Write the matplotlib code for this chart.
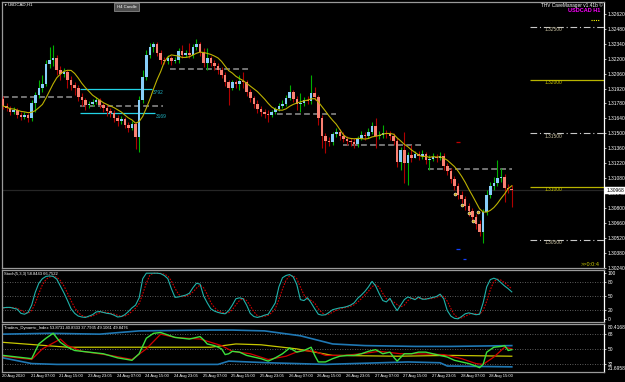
import matplotlib
matplotlib.use("Agg")
import matplotlib.pyplot as plt
from matplotlib.lines import Line2D
from matplotlib.patches import Rectangle
import numpy as np
import pandas as pd

#---------------------------
# DATA
#---------------------------
FIRST_OPEN = 1.31822
closes = [
    1.31756, 1.31737, 1.31700, 1.31719, 1.31672, 1.31653, 1.31672, 1.31644,
    1.31784, 1.31859, 1.31925, 1.31962, 1.32150, 1.32188, 1.32206, 1.32094,
    1.32056, 1.32075, 1.32000, 1.31953, 1.31925, 1.31841, 1.31812, 1.31766,
    1.31775, 1.31794, 1.31812, 1.31766, 1.31737, 1.31709, 1.31690, 1.31644,
    1.31615, 1.31634, 1.31578, 1.31550, 1.31587, 1.31465, 1.31812, 1.32028,
    1.32235, 1.32310, 1.32338, 1.32253, 1.32188, 1.32178, 1.32206, 1.32178,
    1.32188, 1.32272, 1.32235, 1.32253, 1.32235, 1.32310, 1.32338, 1.32263,
    1.32159, 1.32206, 1.32159, 1.32131, 1.32094, 1.32047, 1.31981, 1.31925,
    1.31981, 1.31962, 1.31991, 1.31981, 1.31887, 1.31831, 1.31775, 1.31728,
    1.31700, 1.31681, 1.31672, 1.31700, 1.31728, 1.31756, 1.31775, 1.31831,
    1.31887, 1.31822, 1.31775, 1.31784, 1.31812, 1.31803, 1.31878, 1.31841,
    1.31644, 1.31475, 1.31428, 1.31418, 1.31493, 1.31512, 1.31475, 1.31447,
    1.31428, 1.31418, 1.31400, 1.31447, 1.31484, 1.31475, 1.31512, 1.31569,
    1.31475, 1.31484, 1.31503, 1.31493, 1.31475, 1.31428, 1.31231, 1.31343,
    1.31221, 1.31297, 1.31268, 1.31306, 1.31287, 1.31306, 1.31250, 1.31259,
    1.31278, 1.31268, 1.31287, 1.31193, 1.31146, 1.31071, 1.31006, 1.30921,
    1.30884, 1.30818, 1.30771, 1.30715, 1.30649, 1.30574, 1.30762, 1.30921,
    1.31006, 1.31034, 1.31081, 1.31090, 1.30987, 1.30978, 1.30968,
]
highs = [
    1.31850, 1.31784, 1.31756, 1.31747, 1.31737, 1.31700, 1.31700, 1.31690,
    1.31812, 1.31887, 1.32000, 1.32047, 1.32188, 1.32310, 1.32328, 1.32235,
    1.32131, 1.32113, 1.32094, 1.32038, 1.31981, 1.31953, 1.31878, 1.31831,
    1.31803, 1.31822, 1.31841, 1.31831, 1.31784, 1.31766, 1.31737, 1.31719,
    1.31672, 1.31662, 1.31653, 1.31606, 1.31615, 1.31606, 1.31850, 1.32094,
    1.32281, 1.32347, 1.32356, 1.32356, 1.32281, 1.32216, 1.32235, 1.32225,
    1.32216, 1.32300, 1.32328, 1.32281, 1.32347, 1.32338, 1.32385, 1.32356,
    1.32300, 1.32300, 1.32225, 1.32188, 1.32159, 1.32122, 1.32075, 1.32000,
    1.32000, 1.32000, 1.32047, 1.32075, 1.32000, 1.31916, 1.31850, 1.31812,
    1.31756, 1.31728, 1.31719, 1.31719, 1.31747, 1.31784, 1.31812, 1.31859,
    1.31953, 1.31906, 1.31850, 1.31878, 1.31841, 1.31850, 1.32047, 1.31934,
    1.31859, 1.31672, 1.31503, 1.31465, 1.31512, 1.31550, 1.31540, 1.31512,
    1.31475, 1.31456, 1.31456, 1.31475, 1.31522, 1.31512, 1.31550, 1.31606,
    1.31644, 1.31522, 1.31578, 1.31531, 1.31522, 1.31503, 1.31456, 1.31372,
    1.31512, 1.31325, 1.31390, 1.31334, 1.31334, 1.31343, 1.31325, 1.31297,
    1.31315, 1.31306, 1.31325, 1.31315, 1.31221, 1.31175, 1.31100, 1.31034,
    1.30959, 1.30912, 1.30846, 1.30799, 1.30743, 1.30687, 1.30790, 1.30968,
    1.31043, 1.31090, 1.31250, 1.31175, 1.31118, 1.31025, 1.31015,
]
lows = [
    1.31728, 1.31709, 1.31672, 1.31681, 1.31644, 1.31625, 1.31634, 1.31606,
    1.31615, 1.31700, 1.31831, 1.31887, 1.31944, 1.32113, 1.32131, 1.32047,
    1.32000, 1.32028, 1.31925, 1.31906, 1.31859, 1.31803, 1.31756, 1.31719,
    1.31737, 1.31756, 1.31775, 1.31737, 1.31700, 1.31662, 1.31653, 1.31606,
    1.31569, 1.31587, 1.31550, 1.31512, 1.31531, 1.31353, 1.31325, 1.31784,
    1.32000, 1.32206, 1.32263, 1.32225, 1.32150, 1.32150, 1.32150, 1.32141,
    1.32159, 1.32159, 1.32206, 1.32216, 1.32206, 1.32206, 1.32281, 1.32225,
    1.32122, 1.32094, 1.32131, 1.32094, 1.32056, 1.32019, 1.31944, 1.31766,
    1.31906, 1.31925, 1.31906, 1.31925, 1.31850, 1.31794, 1.31737, 1.31690,
    1.31662, 1.31644, 1.31606, 1.31653, 1.31681, 1.31709, 1.31737, 1.31756,
    1.31812, 1.31794, 1.31719, 1.31700, 1.31756, 1.31775, 1.31775, 1.31812,
    1.31578, 1.31362, 1.31315, 1.31381, 1.31390, 1.31465, 1.31437, 1.31418,
    1.31390, 1.31381, 1.31362, 1.31372, 1.31437, 1.31437, 1.31456, 1.31493,
    1.31362, 1.31447, 1.31456, 1.31456, 1.31437, 1.31390, 1.31184, 1.31156,
    1.31034, 1.31015, 1.31231, 1.31268, 1.31250, 1.31259, 1.31212, 1.31156,
    1.31240, 1.31231, 1.31250, 1.31156, 1.31109, 1.31034, 1.30968, 1.30884,
    1.30846, 1.30781, 1.30724, 1.30677, 1.30602, 1.30537, 1.30471, 1.30734,
    1.30893, 1.30968, 1.31006, 1.31043, 1.30856, 1.30940, 1.30809,
]

# gray dashed session levels: start bar, end bar, price
lvl_start = [0, 21.5, 46.6, 76.5, 95, 118.6]
lvl_end = [19.5, 44.7, 69, 93, 117, 142]
lvl_price = [1.31841, 1.31756, 1.32106, 1.31684, 1.31393, 1.31168]

# cyan range lines
cyan_start = [21.5, 21.5]
cyan_end = [41.6, 42.4]
cyan_price = [1.31913, 1.31688]
cyan_text = ["3792", "3169"]

# white signal dots on the last drop
dot_bar = [126.2, 128.1, 130.0, 131.2, 132.6]
dot_price = [1.30931, 1.30828, 1.30753, 1.30678, 1.30762]

# tiny marks (bar, price, colour)
mark_bar = [127.0, 127.0, 128.8]
mark_price = [1.31418, 1.30415, 1.30321]
mark_color = ["#c00000", "#1040ff", "#1040ff"]

# round number lines on the right
round_price = [1.32500, 1.32000, 1.31500, 1.31000, 1.30500]
round_text = ["1.32500", "1.32000", "1.31500", "1.31000", "1.30500"]

# price scale labels
price_ticks = [1.32620, 1.32480, 1.32340, 1.32200, 1.32060, 1.31920, 1.31780, 1.31640, 1.31500,
               1.31360, 1.31220, 1.31080, 1.30940, 1.30800, 1.30660, 1.30520, 1.30380, 1.30240]

# stochastic(5,3,3) main line
stoch_main = [
    24, 25, 25, 23, 21, 12, 10, 14, 30, 58, 78, 88, 93, 94, 93, 87, 72, 57, 40, 22,
    12, 6, 4, 3, 6, 9, 15, 16, 14, 12, 11, 8, 4, 5, 9, 16, 24, 30, 46, 88,
    100, 100, 100, 100, 99, 95, 88, 66, 47, 48, 50, 52, 56, 68, 78, 76, 50, 35, 22, 17,
    14, 12, 11, 18, 30, 44, 46, 44, 30, 12, 5, 3, 5, 8, 10, 22, 35, 70, 90, 95,
    97, 92, 75, 42, 40, 46, 35, 22, 10, 8, 9, 14, 20, 22, 24, 25, 27, 30, 35, 45,
    52, 60, 70, 82, 72, 55, 40, 37, 45, 30, 18, 30, 42, 48, 45, 42, 48, 43, 43, 45,
    47, 49, 54, 44, 18, 6, 1, 0, 5, 11, 13, 11, 9, 10, 35, 70, 86, 89, 86, 79,
    72, 66, 59,
]

# Traders Dynamic Index lines (bar, value)
tdi_green_bar = [0, 4, 8, 10, 12, 14, 16, 18, 20, 24, 28, 32, 36, 38, 40, 42, 44, 46, 48, 52,
                 55, 56, 57, 59, 61, 62, 63, 64, 66, 68, 70, 72, 74, 76, 78, 80, 82, 84, 86, 87,
                 88, 90, 92, 94, 96, 98, 100, 102, 104, 106, 108, 109, 110, 112, 114, 116, 118, 120, 122, 124,
                 126, 128, 130, 132, 133, 134, 135, 137, 139, 140, 141, 142]
tdi_green = [42, 40, 38, 56, 63, 69, 58, 52, 48, 46, 44, 39, 36, 44, 63, 69, 70, 67, 64, 62,
             65, 61, 56, 54, 50, 43, 44, 47, 46, 42, 40, 38, 35, 39, 44, 51, 46, 48, 52, 42,
             34, 34, 38, 41, 42, 42, 44, 47, 49, 44, 46, 40, 35, 44, 44, 46, 46, 44, 42, 40,
             36, 34, 32, 29, 27, 31, 46, 52, 53, 54, 48, 49]
tdi_red_bar = [0, 8, 11, 16, 18, 22, 30, 36, 40, 44, 48, 55, 58, 61, 64, 69, 74, 79, 83, 87,
               90, 95, 100, 105, 111, 115, 123, 128, 132, 134, 137, 140, 142]
tdi_red = [41, 37, 50, 62, 54, 47, 42, 37, 50, 68, 64, 62, 58, 54, 47, 44, 37, 41, 48, 47,
           42, 42, 44, 47, 44, 44, 43, 38, 32, 31, 40, 52, 50]
tdi_base_bar = [0, 18, 38, 58, 65, 72, 82, 92, 110, 125, 142]
tdi_base = [58, 52, 52, 52, 56, 55, 50, 42, 41, 42, 41]
tdi_up_bar = [0, 13, 27, 38, 58, 64, 73, 83, 92, 101, 115, 125, 142]
tdi_up = [68, 69, 68, 72, 73, 73, 72, 66, 56, 54, 53, 53, 54]
tdi_lo_bar = [0, 8, 15, 40, 60, 63, 74, 90, 113, 122, 124, 142]
tdi_lo = [39, 32, 31, 31, 31, 35, 33, 31, 34, 33, 29, 28]

time_labels = ["20 Aug 2020", "21 Aug 07:00", "21 Aug 15:00", "23 Aug 23:05", "24 Aug 07:00",
               "24 Aug 15:00", "24 Aug 23:05", "25 Aug 07:00", "25 Aug 15:00", "25 Aug 23:05",
               "26 Aug 07:00", "26 Aug 15:00", "26 Aug 23:05", "27 Aug 07:00", "27 Aug 15:00",
               "27 Aug 23:05", "28 Aug 07:00", "28 Aug 15:00"]
BARS_PER_LABEL = 8

#---------------------------
# STYLE
#---------------------------
W, H = 625, 382
BAR_PX = 3.583          # pixel width of one H1 bar
X0_PX = 3.0             # pixel centre of bar 0
FS = 3.5                # price scale font
FS_SMALL = 3.0          # time scale / window titles
BULL_BODY = "#87cefa"
BEAR_BODY = "#fa8072"
BULL_WICK = "#00b000"
BEAR_WICK = "#b00000"

plt.rcParams["font.family"] = ["Liberation Sans", "DejaVu Sans"]

fig = plt.figure(figsize=(W / 100, H / 100), dpi=100, facecolor="black")


def ftext(xp, yp, s, **kw):
    kw.setdefault("fontsize", FS_SMALL)
    kw.setdefault("color", "white")
    kw.setdefault("va", "center")
    return fig.text(xp / W, 1 - yp / H, s, **kw)


def px_axes(x0, y0, x1, y1):
    ax = fig.add_axes([x0 / W, 1 - y1 / H, (x1 - x0) / W, (y1 - y0) / H])
    ax.set_facecolor("black")
    for s in ax.spines.values():
        s.set_color("#9a9a9a")
        s.set_linewidth(0.9)
    ax.spines["right"].set_color("white")
    ax.set_xlim((2 - X0_PX) / BAR_PX, (604 - X0_PX) / BAR_PX)
    ax.yaxis.tick_right()
    ax.tick_params(axis="y", colors="white", labelsize=FS, length=1.5, width=0.5, pad=1)
    ax.tick_params(axis="x", length=0, labelbottom=False)
    return ax


# ---------------- main window ----------------
ax = px_axes(2, 2, 604, 268)
ax.set_ylim(1.30237, 1.32732)
ax.set_yticks(price_ticks)
ax.set_yticklabels([f"{p:.5f}" for p in price_ticks])

x = np.arange(len(closes))
opens = [FIRST_OPEN] + closes[:-1]
up = [c >= o for o, c in zip(opens, closes)]

ax.axhline(closes[-1], color="#262626", lw=0.9, zorder=1)

ax.hlines(lvl_price, lvl_start, lvl_end, colors="#7c7c7c", linestyles=(0, (3.2, 1.8)), lw=1.3, zorder=2)
ax.hlines(cyan_price, cyan_start, cyan_end, colors="#22d3e6", lw=0.9, zorder=2)
for xe, p, t in zip(cyan_end, cyan_price, cyan_text):
    ax.text(xe + 0.3, p - 0.00004, t, color="#1fb5c4", fontsize=FS, va="top", ha="left")

xr0 = (530 - X0_PX) / BAR_PX
xr1 = ax.get_xlim()[1]
for p, t in zip(round_price, round_text):
    if round(p * 1000) % 10 == 0:
        ax.hlines(p, xr0, xr1, colors="#b8b400", lw=0.9, zorder=2)
        tc = "#c8c400"
    else:
        ax.hlines(p, xr0, xr1, colors="#c8c8c8", lw=0.8, linestyles=(0, (6, 2.5, 1, 2.5)), zorder=2)
        tc = "#c8c0a0"
    ax.text(xr0 + 4, p - 0.00004, t, color=tc, fontsize=FS, va="top", ha="left")

ax.vlines(x, lows, highs, colors=[BULL_WICK if u else BEAR_WICK for u in up], lw=0.8, zorder=3)
body_lo = np.minimum(opens, closes)
body_h = np.maximum(np.abs(np.array(closes) - np.array(opens)), 0.00003)
ax.bar(x, body_h, bottom=body_lo, width=0.72, color=[BULL_BODY if u else BEAR_BODY for u in up],
       linewidth=0, zorder=4)

ma = pd.Series(closes).rolling(8, min_periods=1).mean()
ax.plot(x, ma, color="#bdb200", lw=0.8, zorder=5)

ax.scatter(dot_bar, dot_price, s=5, facecolor="white", edgecolor="#e8e8e8", lw=0.3, zorder=6)
ax.scatter(dot_bar, dot_price, s=0.6, color="#c8a000", zorder=7)
ax.hlines(mark_price, np.array(mark_bar) - 0.45, np.array(mark_bar) + 0.45, colors=mark_color,
          lw=0.9, zorder=6)

# current price box
ax.text(1.004, (closes[-1] - 1.30237) / (1.32732 - 1.30237), f"{closes[-1]:.5f}",
        transform=ax.transAxes, fontsize=FS, color="black", va="center", ha="left",
        bbox=dict(boxstyle="square,pad=0.2", fc="white", ec="white", lw=0.3), zorder=10,
        clip_on=False)

# ---------------- stochastic ----------------
axs = px_axes(2, 270, 604, 322)
axs.set_ylim(-7, 107)
axs.set_yticks([100, 80, 50, 20, 0])
for lv in (80, 50, 20):
    axs.axhline(lv, color="#7a7a7a", lw=0.6, ls=(0, (1, 2)))
sig = pd.Series(stoch_main).rolling(3, min_periods=1).mean()
axs.plot(x, sig, color="#d00000", lw=0.8, ls=(0, (1.5, 1.2)))
axs.plot(x, stoch_main, color="#20b2aa", lw=0.8)

# ---------------- TDI ----------------
axt = px_axes(2, 324, 604, 372)
axt.set_ylim(21.6958, 80.4168)
axt.set_yticks([68, 50, 32])
for lv in (68, 50, 32):
    axt.axhline(lv, color="#7a7a7a", lw=0.6, ls=(0, (1, 2)))
axt.text(1.006, 0.985, "80.4168", transform=axt.transAxes, fontsize=FS, color="white", va="top")
axt.text(1.006, 0.015, "21.6958", transform=axt.transAxes, fontsize=FS, color="white", va="bottom")
axt.plot(tdi_up_bar, tdi_up, color="#1f78b4", lw=1.2)
axt.plot(tdi_lo_bar, tdi_lo, color="#1f78b4", lw=1.2)
axt.plot(tdi_base_bar, tdi_base, color="#c8c800", lw=0.9)
axt.plot(tdi_red_bar, tdi_red, color="#d00000", lw=0.9)
axt.plot(tdi_green_bar, tdi_green, color="#3ce03c", lw=1.0)

# ---------------- texts ----------------
ftext(3, 4.5, "\u25bc", fontsize=2.4)
ftext(8, 4.5, "USDCAD,H1", fontsize=3.2)
fig.add_artist(Rectangle((114 / W, 1 - 11 / H), 25 / W, 8 / H, transform=fig.transFigure,
                         facecolor="#4d4d4d", edgecolor="#9a9a9a", lw=0.5))
ftext(126.5, 7, "H4 Candle", ha="center", fontsize=3.1)
ftext(603, 5, "THV CaveManager v1.41b \u00a9", ha="right", fontsize=3.4)
ftext(600, 10.5, "USDCAD H1", ha="right", color="#ff00ff", fontsize=4.0, weight="bold")
fig.add_artist(Line2D([591 / W, 599 / W], [1 - 20 / H, 1 - 20 / H], color="#ffff00", lw=0.8,
                      ls=(0, (1, 1))))
ftext(600, 264.5, ">>0:0:4", ha="right", color="#c8c800", fontsize=4.0)
ftext(4, 274, "Stoch(5,3,3) 58.8443 66.7522")
ftext(4, 327.5, "Traders_Dynamic_Index 53.8731 40.8333 37.7935 49.1061 49.8476")

for k, lab in enumerate(time_labels):
    ftext(X0_PX + k * BARS_PER_LABEL * BAR_PX - 1, 376.5, lab, ha="left")

fig.savefig("out.png", dpi=100, facecolor="black")
